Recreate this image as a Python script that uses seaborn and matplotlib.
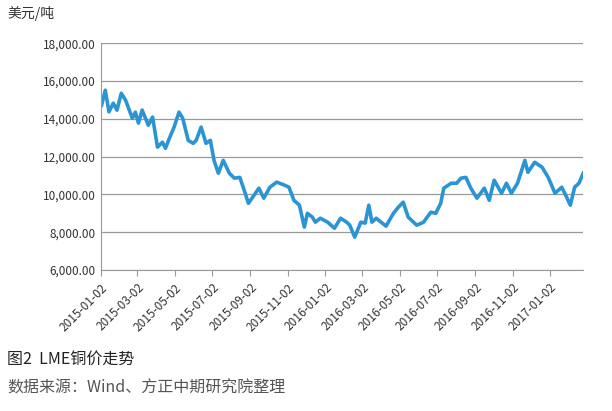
import matplotlib
matplotlib.use("Agg")
import matplotlib.pyplot as plt
import matplotlib.dates as mdates
import matplotlib.ticker as mticker
import seaborn as sns
import pandas as pd

plt.rcParams["font.family"] = ["Noto Sans CJK SC", "DejaVu Sans"]

start_date = "2015-01-02"
day_offsets = [1, 7, 13, 20, 26, 33, 40, 51, 56, 61, 67, 77, 84, 92, 100, 105, 110, 119, 127, 133,
               142, 150, 155, 163, 171, 178, 184, 191, 199, 209, 217, 226, 232, 240, 249, 257, 265,
               275, 286, 298, 306, 314, 323, 331, 336, 344, 349, 357, 369, 380, 390, 400,
               405, 413, 423, 430, 436, 441, 448, 456, 464, 476, 484, 492, 500, 514, 525, 537, 545,
               553, 558, 570, 579, 586, 594, 602, 612, 624, 632, 640, 652, 660, 668, 678, 690, 695,
               706, 718, 728, 739, 750, 758, 764, 771, 778, 785]
prices = [14720, 15510, 14365, 14825, 14455, 15350, 14985, 14030, 14350, 13770, 14460, 13660, 14090,
          12500, 12760, 12440, 12860, 13560, 14350, 14030, 12860, 12700, 12860, 13560, 12700, 12860,
          11800, 11120, 11800, 11120, 10860, 10900, 10330, 9530, 9950, 10330, 9800, 10380, 10650,
          10500, 10380, 9690, 9430, 8270, 9000, 8800, 8530, 8740, 8530, 8210, 8740, 8530,
          8370, 7740, 8530, 8480, 9430, 8530, 8740, 8530, 8320, 9000, 9320, 9590, 8800, 8370, 8530,
          9060, 9000, 9530, 10330, 10590, 10590, 10860, 10900, 10330, 9800, 10330, 9690, 10750,
          10060, 10590, 10060, 10590, 11800, 11170, 11700, 11440, 10900, 10060, 10380, 9850, 9430,
          10380, 10590, 11120]
y_ticks = [6000, 8000, 10000, 12000, 14000, 16000, 18000]

dates = pd.Timestamp(start_date) + pd.to_timedelta(day_offsets, unit="D")
df = pd.DataFrame({"date": dates, "price": prices})

fig = plt.figure(figsize=(6.12, 4.11), dpi=100)
ax = fig.add_axes([0.165, 0.343, 0.788, 0.552])
sns.lineplot(data=df, x="date", y="price", ax=ax, color="#2B95D4", linewidth=2.6)

ax.set_xlim(pd.Timestamp(start_date), df["date"].iloc[-1])
ax.set_ylim(6000, 18000)
ax.set_yticks(y_ticks)
ax.yaxis.set_major_formatter(mticker.FuncFormatter(lambda v, p: f"{v:,.2f}"))
ax.xaxis.set_major_locator(mdates.MonthLocator(bymonth=[1, 3, 5, 7, 9, 11], bymonthday=2))
ax.xaxis.set_major_formatter(mdates.DateFormatter("%Y-%m-%d"))
for lbl in ax.get_xticklabels():
    lbl.set_rotation(45)
    lbl.set_ha("right")
    lbl.set_rotation_mode("anchor")
ax.tick_params(axis="both", labelsize=8.5, colors="#333333", length=0, pad=4)
ax.tick_params(axis="x", length=4, color="#999999", direction="out")
ax.grid(axis="y", color="#999999", linewidth=0.9)
ax.set_axisbelow(True)
for s in ["top", "right"]:
    ax.spines[s].set_visible(False)
ax.spines["left"].set_color("#999999")
ax.spines["bottom"].set_color("#999999")
ax.set_xlabel("")
ax.set_ylabel("")

fig.text(0.012, 0.955, "美元/吨", fontsize=10, color="#333333")
fig.text(0.012, 0.115, "图2  LME铜价走势", fontsize=11.5, color="#222222")
fig.text(0.012, 0.045, "数据来源：Wind、方正中期研究院整理", fontsize=11.5, color="#555555")

fig.savefig("out.png", dpi=100)
